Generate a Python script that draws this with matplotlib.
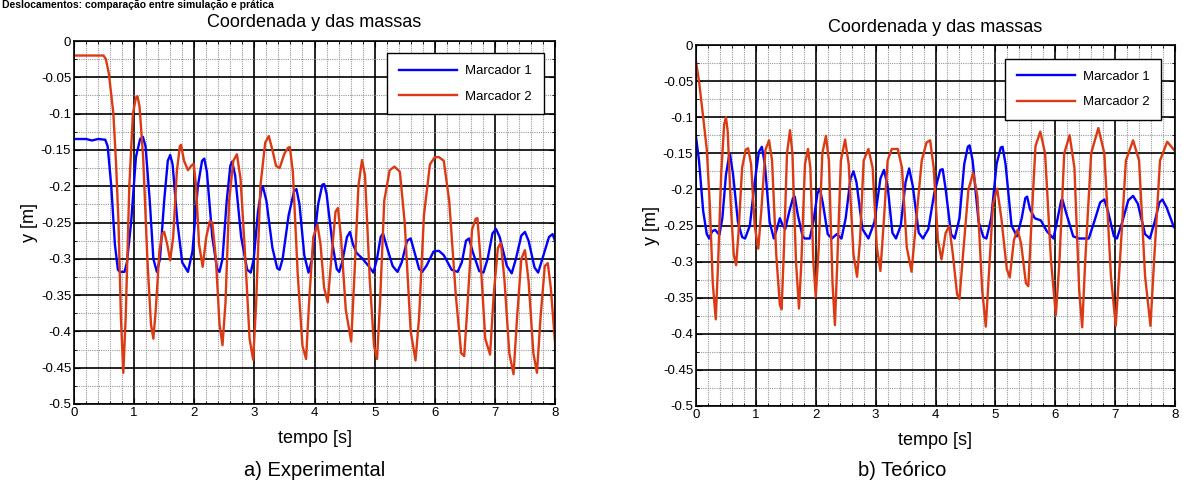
import matplotlib
matplotlib.use("Agg")
import matplotlib.pyplot as plt
from matplotlib.ticker import MultipleLocator

plt.rcParams['font.family'] = ['Liberation Sans', 'DejaVu Sans']

# ---------------- data ----------------
# a) Experimental - Marcador 1
exp_t1 = [0.0, 0.2, 0.3, 0.4, 0.52, 0.56, 0.62, 0.68, 0.73, 0.76, 0.84, 0.88, 0.95, 1.03, 1.1, 1.145, 1.19, 1.26, 1.32,
          1.378, 1.43, 1.5, 1.56, 1.6, 1.64, 1.72, 1.8, 1.895, 1.97, 2.06, 2.13, 2.167, 2.21, 2.3, 2.38, 2.42, 2.47,
          2.54, 2.6, 2.63, 2.68, 2.78, 2.88, 2.94, 2.99, 3.06, 3.12, 3.14, 3.2, 3.3, 3.38, 3.42, 3.47, 3.57, 3.66,
          3.7, 3.75, 3.83, 3.9, 3.96, 4.06, 4.13, 4.16, 4.2, 4.3, 4.37, 4.41, 4.46, 4.54, 4.59, 4.64, 4.7, 4.8, 4.9,
          4.98, 5.04, 5.1, 5.14, 5.19, 5.3, 5.38, 5.45, 5.54, 5.6, 5.66, 5.74, 5.79, 5.86, 5.98, 6.07, 6.15, 6.28,
          6.38, 6.45, 6.52, 6.57, 6.63, 6.74, 6.81, 6.88, 6.96, 7.02, 7.08, 7.2, 7.28, 7.35, 7.44, 7.5, 7.56, 7.66,
          7.72, 7.79, 7.9, 7.96, 8.0]
exp_y1 = [-0.135, -0.135, -0.137, -0.135, -0.136, -0.145, -0.2, -0.28, -0.315, -0.318, -0.318, -0.305, -0.25, -0.16, -0.135,
          -0.132, -0.145, -0.22, -0.3, -0.318, -0.3, -0.22, -0.165, -0.157, -0.17, -0.25, -0.305, -0.318, -0.29, -0.2,
          -0.165, -0.162, -0.18, -0.27, -0.314, -0.318, -0.3, -0.22, -0.172, -0.166, -0.185, -0.27, -0.315, -0.319, -0.3,
          -0.235, -0.203, -0.2, -0.22, -0.285, -0.313, -0.315, -0.3, -0.24, -0.207, -0.204, -0.225, -0.295, -0.319, -0.3,
          -0.225, -0.198, -0.197, -0.21, -0.28, -0.314, -0.318, -0.305, -0.27, -0.263, -0.28, -0.292, -0.3, -0.31, -0.319,
          -0.3, -0.27, -0.265, -0.28, -0.31, -0.318, -0.305, -0.275, -0.272, -0.29, -0.314, -0.318, -0.31, -0.29, -0.289,
          -0.295, -0.315, -0.318, -0.305, -0.275, -0.272, -0.29, -0.317, -0.319, -0.3, -0.265, -0.259, -0.27, -0.31, -0.32,
          -0.3, -0.268, -0.263, -0.275, -0.312, -0.319, -0.3, -0.27, -0.266, -0.275]

# a) Experimental - Marcador 2
exp_t2 = [0.0, 0.49, 0.53, 0.58, 0.655, 0.7, 0.74, 0.78, 0.82, 0.86, 0.92, 0.98, 1.03, 1.055, 1.09, 1.15, 1.22, 1.28,
          1.32, 1.36, 1.42, 1.47, 1.5, 1.55, 1.6, 1.65, 1.71, 1.76, 1.78, 1.83, 1.895, 1.95, 1.99, 2.03, 2.08, 2.14,
          2.2, 2.26, 2.3, 2.36, 2.42, 2.47, 2.52, 2.58, 2.65, 2.71, 2.77, 2.85, 2.92, 2.98, 3.03, 3.1, 3.18, 3.24,
          3.3, 3.36, 3.42, 3.5, 3.56, 3.59, 3.64, 3.72, 3.8, 3.86, 3.91, 3.98, 4.05, 4.1, 4.16, 4.22, 4.28, 4.35,
          4.39, 4.44, 4.52, 4.61, 4.66, 4.73, 4.79, 4.84, 4.92, 4.99, 5.04, 5.09, 5.16, 5.25, 5.33, 5.42, 5.5, 5.6,
          5.68, 5.74, 5.82, 5.92, 6.0, 6.07, 6.15, 6.24, 6.35, 6.44, 6.49, 6.54, 6.62, 6.68, 6.71, 6.76, 6.84, 6.92,
          6.98, 7.05, 7.1, 7.16, 7.24, 7.31, 7.37, 7.44, 7.5, 7.56, 7.64, 7.7, 7.76, 7.83, 7.88, 7.93, 8.0]
exp_y2 = [-0.02, -0.02, -0.025, -0.045, -0.1, -0.17, -0.25, -0.38, -0.457, -0.38, -0.2, -0.1, -0.078, -0.076, -0.09,
          -0.16, -0.3, -0.39, -0.41, -0.37, -0.29, -0.265, -0.263, -0.28, -0.302, -0.27, -0.18, -0.145, -0.143, -0.165,
          -0.178, -0.172, -0.169, -0.2, -0.28, -0.311, -0.27, -0.248, -0.25, -0.3, -0.39, -0.419, -0.36, -0.22, -0.165,
          -0.156, -0.19, -0.3, -0.41, -0.439, -0.36, -0.2, -0.14, -0.131, -0.15, -0.172, -0.175, -0.155, -0.147, -0.146,
          -0.18, -0.32, -0.42, -0.438, -0.36, -0.27, -0.253, -0.28, -0.34, -0.36, -0.3, -0.235, -0.23, -0.27, -0.37,
          -0.414, -0.33, -0.2, -0.164, -0.185, -0.33, -0.42, -0.438, -0.36, -0.22, -0.178, -0.173, -0.18, -0.25, -0.4,
          -0.44, -0.38, -0.24, -0.17, -0.16, -0.16, -0.165, -0.22, -0.35, -0.43, -0.434, -0.37, -0.26, -0.245, -0.244,
          -0.3, -0.41, -0.432, -0.35, -0.285, -0.278, -0.33, -0.43, -0.459, -0.38, -0.3, -0.288, -0.33, -0.43, -0.457,
          -0.38, -0.31, -0.306, -0.34, -0.415]

# b) Teórico - Marcador 1
teo_t1 = [0.0, 0.05, 0.12, 0.18, 0.22, 0.27, 0.32, 0.39, 0.44, 0.5, 0.55, 0.57, 0.62, 0.7, 0.77, 0.82, 0.9, 0.98, 1.05,
          1.1, 1.15, 1.23, 1.3, 1.35, 1.4, 1.45, 1.49, 1.56, 1.62, 1.65, 1.7, 1.78, 1.82, 1.9, 1.96, 2.03, 2.07, 2.12,
          2.2, 2.27, 2.35, 2.43, 2.5, 2.58, 2.63, 2.68, 2.78, 2.88, 2.98, 3.08, 3.14, 3.2, 3.28, 3.34, 3.42, 3.5,
          3.56, 3.62, 3.72, 3.79, 3.88, 3.98, 4.08, 4.12, 4.17, 4.26, 4.32, 4.4, 4.48, 4.54, 4.57, 4.62, 4.72, 4.8,
          4.85, 4.93, 5.02, 5.09, 5.12, 5.17, 5.27, 5.36, 5.44, 5.5, 5.53, 5.58, 5.66, 5.76, 5.86, 5.97, 6.04, 6.1,
          6.12, 6.18, 6.3, 6.39, 6.56, 6.65, 6.75, 6.82, 6.88, 6.98, 7.03, 7.12, 7.22, 7.3, 7.38, 7.5, 7.58, 7.66,
          7.74, 7.79, 7.86, 7.98]
teo_y1 = [-0.127, -0.16, -0.23, -0.262, -0.268, -0.258, -0.256, -0.263, -0.24, -0.18, -0.155, -0.152, -0.18, -0.245,
          -0.266, -0.268, -0.25, -0.19, -0.148, -0.141, -0.165, -0.245, -0.268, -0.255, -0.24, -0.25, -0.255, -0.23,
          -0.212, -0.21, -0.235, -0.265, -0.268, -0.268, -0.245, -0.205, -0.199, -0.22, -0.262, -0.268, -0.262, -0.268,
          -0.24, -0.185, -0.175, -0.19, -0.255, -0.268, -0.245, -0.185, -0.173, -0.195, -0.26, -0.268, -0.25, -0.19,
          -0.171, -0.195, -0.26, -0.268, -0.255, -0.205, -0.173, -0.172, -0.2, -0.262, -0.268, -0.24, -0.165, -0.141,
          -0.139, -0.16, -0.245, -0.266, -0.268, -0.24, -0.165, -0.142, -0.141, -0.165, -0.25, -0.265, -0.24, -0.212,
          -0.21, -0.228, -0.24, -0.243, -0.258, -0.268, -0.24, -0.215, -0.214, -0.232, -0.265, -0.268, -0.268, -0.245,
          -0.218, -0.214, -0.23, -0.265, -0.268, -0.245, -0.215, -0.209, -0.22, -0.262, -0.268, -0.245, -0.218, -0.214,
          -0.225, -0.252]

# b) Teórico - Marcador 2
teo_t2 = [0.0, 0.05, 0.12, 0.18, 0.23, 0.28, 0.33, 0.37, 0.42, 0.47, 0.5, 0.53, 0.58, 0.63, 0.67, 0.71, 0.77, 0.83,
          0.87, 0.92, 0.98, 1.04, 1.09, 1.16, 1.22, 1.27, 1.34, 1.4, 1.43, 1.47, 1.52, 1.57, 1.61, 1.67, 1.72, 1.76,
          1.82, 1.87, 1.91, 1.96, 2.0, 2.05, 2.11, 2.17, 2.22, 2.28, 2.32, 2.36, 2.42, 2.49, 2.55, 2.63, 2.69, 2.74,
          2.8, 2.88, 2.95, 3.02, 3.08, 3.14, 3.2, 3.27, 3.37, 3.44, 3.52, 3.6, 3.67, 3.77, 3.85, 3.91, 3.97, 4.04,
          4.1, 4.17, 4.23, 4.29, 4.36, 4.4, 4.46, 4.55, 4.63, 4.7, 4.78, 4.84, 4.89, 4.96, 5.03, 5.1, 5.19, 5.24,
          5.31, 5.37, 5.43, 5.51, 5.55, 5.6, 5.67, 5.75, 5.83, 5.93, 6.01, 6.07, 6.15, 6.24, 6.32, 6.4, 6.45, 6.5,
          6.6, 6.72, 6.82, 6.93, 7.01, 7.08, 7.18, 7.3, 7.4, 7.5, 7.59, 7.65, 7.75, 7.87, 7.98]
teo_y2 = [-0.023, -0.05, -0.1, -0.145, -0.22, -0.33, -0.38, -0.3, -0.18, -0.11, -0.1, -0.12, -0.22, -0.29, -0.305,
          -0.26, -0.17, -0.145, -0.143, -0.165, -0.25, -0.282, -0.23, -0.145, -0.132, -0.16, -0.29, -0.36, -0.366,
          -0.28, -0.15, -0.118, -0.15, -0.3, -0.365, -0.3, -0.165, -0.144, -0.17, -0.3, -0.349, -0.28, -0.15, -0.126,
          -0.16, -0.33, -0.388, -0.3, -0.16, -0.131, -0.165, -0.29, -0.321, -0.27, -0.16, -0.144, -0.17, -0.28, -0.313,
          -0.24, -0.16, -0.144, -0.144, -0.17, -0.28, -0.314, -0.25, -0.16, -0.135, -0.132, -0.17, -0.27, -0.297,
          -0.26, -0.251, -0.29, -0.345, -0.352, -0.29, -0.2, -0.177, -0.21, -0.34, -0.39, -0.32, -0.22, -0.199, -0.24,
          -0.31, -0.322, -0.27, -0.256, -0.275, -0.33, -0.334, -0.25, -0.14, -0.12, -0.15, -0.3, -0.374, -0.3, -0.15,
          -0.125, -0.17, -0.34, -0.391, -0.3, -0.15, -0.115, -0.15, -0.32, -0.389, -0.3, -0.16, -0.132, -0.16, -0.32,
          -0.389, -0.3, -0.16, -0.134, -0.145]

series_labels = ['Marcador 1', 'Marcador 2']
title_text = 'Coordenada y das massas'
xlabel_text = 'tempo [s]'
ylabel_text = 'y [m]'
captions = ['a) Experimental', 'b) Teórico']
top_text = 'Deslocamentos: comparação entre simulação e prática'

blue = '#0000FF'
red = '#DC3A12'

fig = plt.figure(figsize=(11.83, 4.84), dpi=100)
axL = fig.add_axes([74/1183, 1-404/484, 481/1183, 363/484])
axR = fig.add_axes([696/1183, 1-406/484, 479/1183, 361/484])


def style(ax, data1, data2, legend_anchor, title_pad):
    t1, y1 = data1
    t2, y2 = data2
    ax.plot(t1, y1, color=blue, lw=1.7, label=series_labels[0], solid_joinstyle='round')
    ax.plot(t2, y2, color=red, lw=1.7, label=series_labels[1], solid_joinstyle='round')
    ax.set_xlim(0, 8)
    ax.set_ylim(-0.5, 0)
    ax.xaxis.set_major_locator(MultipleLocator(1))
    ax.xaxis.set_minor_locator(MultipleLocator(0.2))
    ax.yaxis.set_major_locator(MultipleLocator(0.05))
    ax.yaxis.set_minor_locator(MultipleLocator(0.025))
    ax.set_yticklabels([('%g' % v) for v in ax.get_yticks()])
    ax.grid(which='major', color='black', lw=1.2, ls='-')
    ax.grid(which='minor', color='#999999', lw=0.8, ls=(0, (1, 1)))
    ax.set_axisbelow(True)
    ax.tick_params(which='both', direction='in', top=True, right=True, labelsize=9.5, pad=2)
    ax.tick_params(which='major', length=4)
    ax.tick_params(which='minor', length=2)
    for s in ax.spines.values():
        s.set_linewidth(1.2)
    ax.set_title(title_text, fontsize=13, pad=title_pad)
    ax.set_xlabel(xlabel_text, fontsize=13, labelpad=8)
    ax.set_ylabel(ylabel_text, fontsize=13, labelpad=2)
    leg = ax.legend(loc='upper right', bbox_to_anchor=legend_anchor, fontsize=9.5,
                    fancybox=False, edgecolor='black', framealpha=1, handlelength=4.4,
                    borderpad=0.9, labelspacing=1.0, handletextpad=0.6, borderaxespad=0.5)
    leg.get_frame().set_linewidth(1.0)


style(axL, (exp_t1, exp_y1), (exp_t2, exp_y2), (0.99, 0.985), 10)
style(axR, (teo_t1, teo_y1), (teo_t2, teo_y2), (0.985, 0.98), 9)

fig.text(315/1183, 1-471/484, captions[0], ha='center', va='center', fontsize=14.5)
fig.text(902/1183, 1-471/484, captions[1], ha='center', va='center', fontsize=14.5)
fig.text(0.002, 0.999, top_text, ha='left', va='top', fontsize=7.5, fontweight='bold')

fig.savefig('out.png', dpi=100)
